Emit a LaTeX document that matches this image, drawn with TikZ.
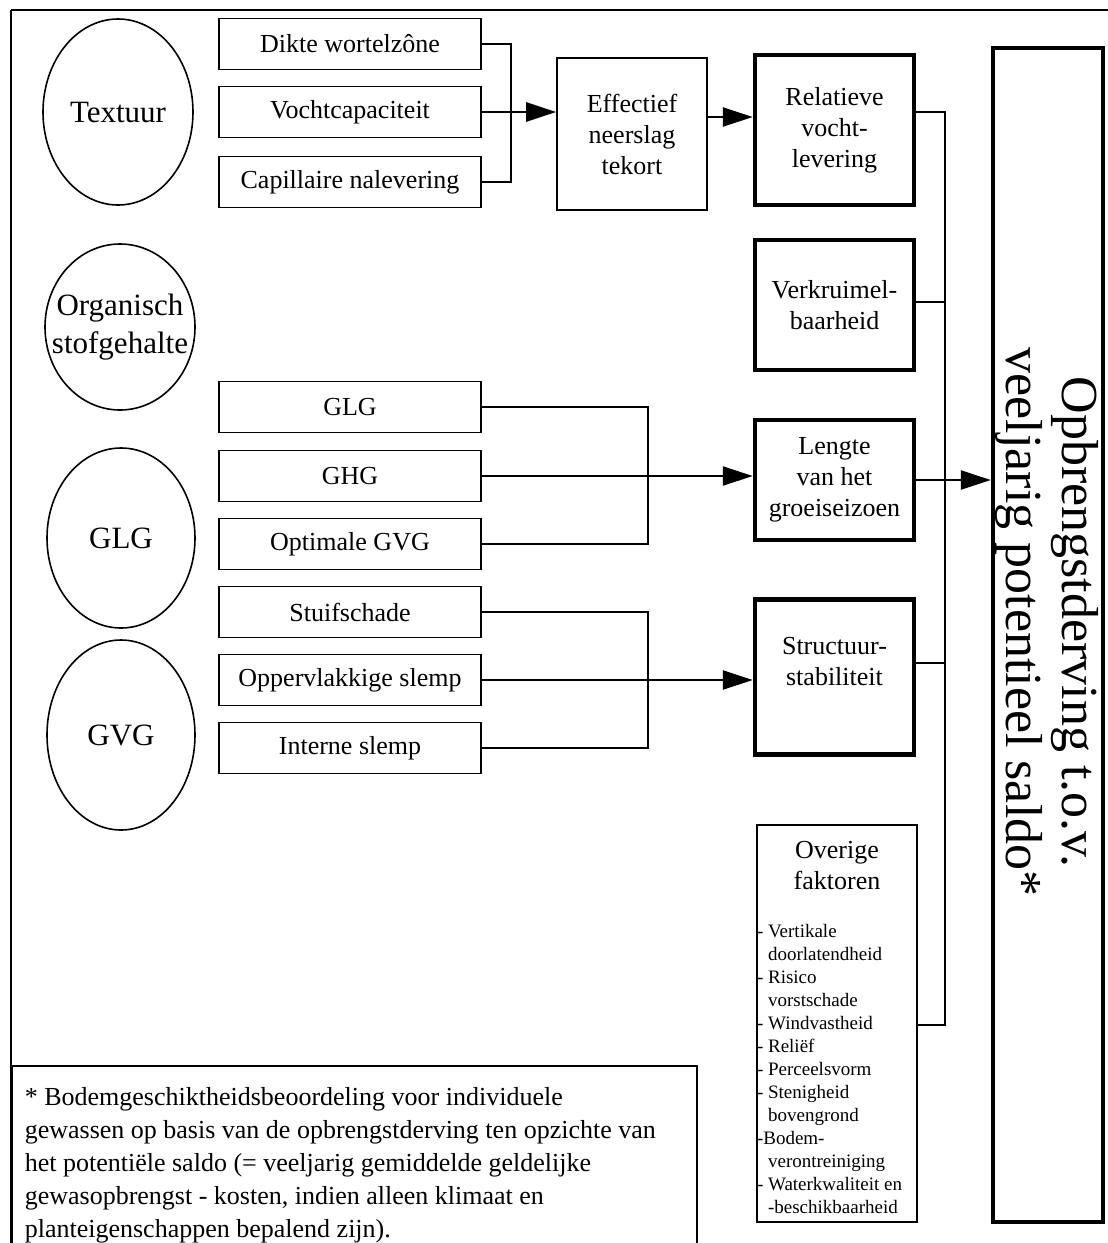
\documentclass[tikz,border=0pt]{standalone}
\usepackage{fontspec}
\setmainfont{Liberation Serif}
\usetikzlibrary{shapes}
\usetikzlibrary{arrows.meta}
\usetikzlibrary{positioning}
\usetikzlibrary{calc}

\begin{document}
\begin{tikzpicture}[x=1pt, y=-1pt, line width=1.6pt,
		every node/.style={font=\fontsize{26}{31}\selectfont, align=center, inner sep=0pt},
		factor/.style={draw, ellipse, font=\fontsize{31}{38}\selectfont},
		input/.style={draw, minimum width=262pt, minimum height=51pt},
		mid/.style={draw, line width=4.5pt, minimum width=159pt},
		tip/.style={-{Triangle[length=30pt, width=19pt]}, line width=2.6pt}]
			\useasboundingbox (0,0) rectangle (1108,1243);
			\clip (0,0) rectangle (1108,1243);
			% frame
			\draw (11,10) -- (1108,10);
			\draw (11,10) -- (11,1243);
			% soil factors
			\node[factor, minimum width=150pt, minimum height=186pt] (textuur) at (118,112) {Textuur};
			\node[factor, minimum width=150pt, minimum height=166pt, label={[font=\fontsize{31}{38}\selectfont]center:{Organisch\\stofgehalte}}] (organisch) at (120,327) {};
			\node[factor, minimum width=148pt, minimum height=180pt] (glgfac) at (121,538) {GLG};
			\node[factor, minimum width=148pt, minimum height=190pt] (gvgfac) at (121,735) {GVG};
			% inputs
			\node[input] (dikte) at (350,44) {Dikte wortelz\^one};
			\node[input] (vocht) at (350,112) {Vochtcapaciteit};
			\node[input] (capil) at (350,182) {Capillaire nalevering};
			\node[input] (glg) at (350,407) {GLG};
			\node[input] (ghg) at (350,476) {GHG};
			\node[input] (optgvg) at (350,544) {Optimale GVG};
			\node[input] (stuif) at (350,612) {Stuifschade};
			\node[input] (opperv) at (350,680) {Oppervlakkige slemp};
			\node[input] (intern) at (350,748) {Interne slemp};
			% qualities
			\node[draw, minimum width=150pt, minimum height=152pt] (effect) at (632,134) {Effectief\\neerslag\\tekort};
			\node[mid, minimum height=150pt] (relat) at (834.5,130) {Relatieve\\vocht-\\levering};
			\node[mid, minimum height=130pt] (verkr) at (834.5,305) {Verkruimel-\\baarheid};
			\node[mid, minimum height=120pt] (lengte) at (834.5,480) {Lengte\\van het\\groeiseizoen};
			\node[mid, minimum height=155pt] (struct) at (834.5,677) {Structuur-\\stabiliteit\\\mbox{}};
			\node[draw, minimum width=160pt, minimum height=397pt] (overige) at (837,1023.5) {};
			\node[below=16pt of overige.north] (ovtitel) {Overige\\faktoren};
			\node[anchor=north west, align=left, font=\fontsize{19}{23}\selectfont] (ovlijst) at ([yshift=-99pt]overige.north west) {%
				- Vertikale\\ \phantom{- }doorlatendheid\\- Risico\\ \phantom{- }vorstschade\\- Windvastheid\\- Reli\"ef\\- Perceelsvorm\\%
				- Stenigheid\\ \phantom{- }bovengrond\\-Bodem-\\ \phantom{- }verontreiniging\\- Waterkwaliteit en\\ \phantom{- }-beschikbaarheid};
			% result
			\node[draw, line width=4.5pt, minimum width=110pt, minimum height=1174pt] (saldo) at (1048,635) {};
			\node[rotate=-90, font=\fontsize{52}{56}\selectfont] (saldotekst) at (1047,622) {Opbrengstderving t.o.v.\\veeljarig potentieel saldo*};
			% footnote
			\node[draw, anchor=north west, minimum width=685pt, minimum height=220pt] (noot) at (11,1065) {};
			\node[anchor=north west, align=left, font=\fontsize{26}{33}\selectfont] (noottekst) at ([xshift=13pt, yshift=-22pt]noot.north west) {%
				* Bodemgeschiktheidsbeoordeling voor individuele\\
				gewassen op basis van de opbrengstderving ten opzichte van\\
				het potenti\"ele saldo (= veeljarig gemiddelde geldelijke\\
				gewasopbrengst - kosten, indien alleen klimaat en\\
				planteigenschappen bepalend zijn).};
			% junctions
			\coordinate (jvocht) at (511,112);
			\coordinate (jghg) at (648,476);
			\coordinate (jopperv) at (648,680);
			\coordinate (jboven) at (945,112);
			\coordinate (jonder) at (945,1025);
			% into Effectief and on
			\draw (dikte.east) -| (jvocht) |- (capil.east);
			\draw[tip] (vocht.east) -- (vocht.east -| effect.west);
			\draw[tip] (effect.east |- 0,117) -- (relat.west |- 0,117);
			% into Lengte
			\draw (glg.east) -| (jghg) |- (optgvg.east);
			\draw[tip] (ghg.east) -- (ghg.east -| lengte.west);
			% into Structuur
			\draw (stuif.east) -| (jopperv) |- (intern.east);
			\draw[tip] (opperv.east) -- (opperv.east -| struct.west);
			% all into the result
			\draw (relat.east |- jboven) -- (jboven) -- (jonder) -- (overige.east |- jonder);
			\draw (verkr.east |- 0,302) -- (jboven |- 0,302);
			\draw (struct.east |- 0,663) -- (jboven |- 0,663);
			\draw[tip] (lengte.east) -- (lengte.east -| saldo.west);
\end{tikzpicture}
\end{document}
